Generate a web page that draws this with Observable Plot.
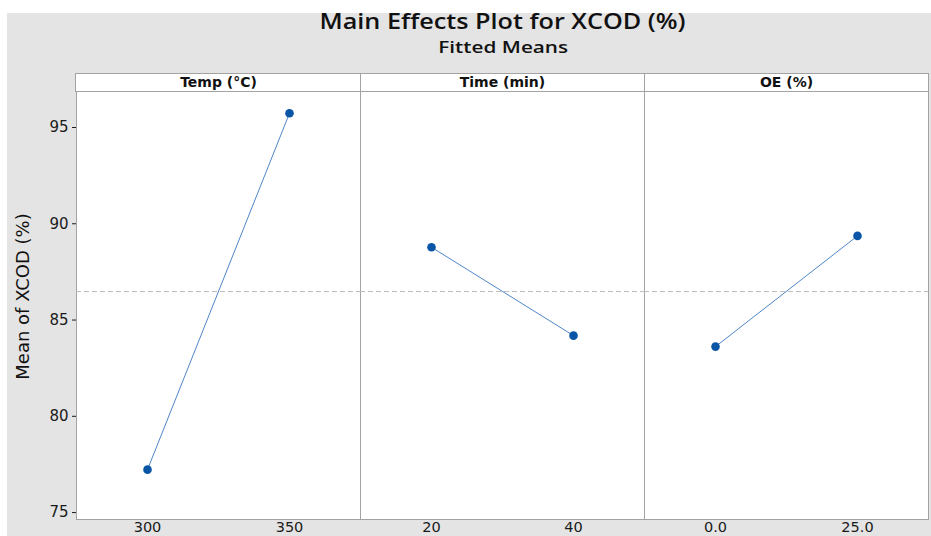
<!DOCTYPE html>
<html>
<head>
<meta charset="utf-8">
<script src="https://cdn.jsdelivr.net/npm/d3@7"></script>
<script src="https://cdn.jsdelivr.net/npm/@observablehq/plot@0.6"></script>
<style>
  html, body { margin: 0; padding: 0; background: #fff; }
  #page { position: relative; width: 931px; height: 536px; overflow: hidden; font-family: "Open Sans", "Noto Sans", sans-serif; }
  #bg { position: absolute; left: 7px; top: 13px; right: 0; bottom: 0; background: #e4e4e4; }
  .title { position: absolute; left: 75px; width: 856px; text-align: center; color: #111; white-space: nowrap; font-weight: 600; }
  .title span { display: inline-block; transform-origin: 50% 50%; }
  #header { position: absolute; background: #fff; border-top: 1px solid #a3a3a3; border-bottom: 1px solid #a3a3a3; box-sizing: border-box; }
  .hdiv { position: absolute; top: 0; bottom: 0; width: 1px; background: #a3a3a3; }
  #chart { position: absolute; left: 0; top: 0; }
</style>
</head>
<body>
<div id="page">
  <div id="bg"></div>
  <div class="title" style="top:7px;font-size:21px;"><span style="transform:scaleX(1.2)">Main Effects Plot for XCOD (%)</span></div>
  <div class="title" style="top:35px;font-size:17px;"><span style="transform:scaleX(1.22)">Fitted Means</span></div>
  <div id="header"></div>
  <div id="chart"></div>
</div>
<script>
// ---- data ----
const factors = ["Temp (°C)", "Time (min)", "OE (%)"];
const rowFactor = ["Temp (°C)", "Temp (°C)", "Time (min)", "Time (min)", "OE (%)", "OE (%)"];
const rowLevel = ["300", "350", "20", "40", "0.0", "25.0"];
const rowPos = ["low", "high", "low", "high", "low", "high"];
const meanXCOD = [77.23, 95.74, 88.78, 84.19, 83.62, 89.37];
const grandMean = 86.48;
const yTicks = [75, 80, 85, 90, 95];
const yLabel = "Mean of XCOD (%)";

const rows = rowFactor.map((f, i) => ({factor: f, level: rowLevel[i], pos: rowPos[i], mean: meanXCOD[i]}));

// ---- layout ----
const W = 931, H = 536;
const mL = 75, mR = 2, mT = 91, mB = 17;
const headerTop = 73;

const header = document.getElementById("header");
header.style.left = mL + "px";
header.style.top = headerTop + "px";
header.style.width = (W - mL - mR) + "px";
header.style.height = (mT - headerTop + 1) + "px";
const fw = (W - mL - mR) / factors.length;
for (let i = 0; i <= factors.length; i++) {
  const d = document.createElement("div");
  d.className = "hdiv";
  d.style.left = Math.min(i * fw, W - mL - mR - 1) + "px";
  header.appendChild(d);
}

const chart = Plot.plot({
  width: W,
  height: H,
  marginLeft: mL,
  marginRight: mR,
  marginTop: mT,
  marginBottom: mB,
  style: {background: "transparent", fontFamily: "DejaVu Sans, sans-serif", fontSize: "15px", color: "#1a1a1a", overflow: "visible"},
  fx: {domain: factors, padding: 0, axis: null},
  x: {type: "point", domain: ["low", "high"], padding: 0.5, axis: null},
  y: {domain: [74.64, 96.87], ticks: yTicks, tickSize: 4, tickPadding: 4, label: null},
  marks: [
    Plot.frame({fill: "#fff", stroke: "#a3a3a3"}),
    Plot.ruleY([grandMean], {stroke: "#bdbdbd", strokeDasharray: "5,3", strokeWidth: 1}),
    Plot.line(rows, {fx: "factor", x: "pos", y: "mean", stroke: "#4f86c8", strokeWidth: 1}),
    Plot.dot(rows, {fx: "factor", x: "pos", y: "mean", r: 4.3, fill: "#0b55a6", stroke: "none"}),
    Plot.text(rows, {fx: "factor", x: "pos", text: "level", frameAnchor: "bottom", lineAnchor: "bottom", dy: 12, fontSize: 14.5, fill: "#1a1a1a"}),
    Plot.text(factors, {fx: d => d, text: d => d, frameAnchor: "top", lineAnchor: "middle", dy: -9, fontSize: 14, fontWeight: "bold", fill: "#111"}),
    Plot.text([yLabel], {fx: () => factors[0], text: d => d, frameAnchor: "left", textAnchor: "middle", rotate: -90, dx: -53, dy: -9, fontSize: 18, fill: "#111"})
  ]
});
document.getElementById("chart").appendChild(chart);
</script>
</body>
</html>
